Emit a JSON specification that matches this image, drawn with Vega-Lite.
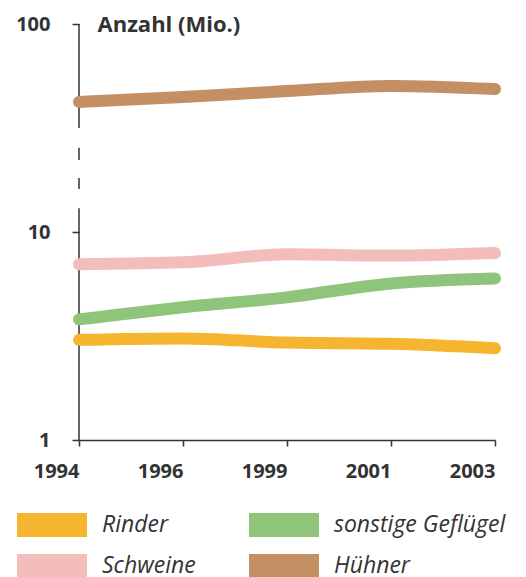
{
  "$schema": "https://vega.github.io/schema/vega-lite/v6.json",
  "width": 416,
  "height": 416,
  "autosize": {"type": "none"},
  "padding": {"left": 79, "top": 24, "right": 31, "bottom": 137},
  "background": "white",
  "config": {
    "view": {"stroke": null},
    "font": "Open Sans",
    "legend": {
      "orient": "none",
      "legendX": -39,
      "legendY": 489,
      "columns": 2,
      "direction": "horizontal",
      "title": null,
      "symbolType": "M-2.917,-1H2.917V1H-2.917Z",
      "symbolSize": 576,
      "symbolStrokeWidth": 0,
      "symbolOpacity": 1,
      "labelFont": "Open Sans",
      "labelFontStyle": "italic",
      "labelFontSize": 23,
      "labelColor": "#333333",
      "labelOffset": 38,
      "rowPadding": 17,
      "columnPadding": 52,
      "labelLimit": 300
    }
  },
  "datasets": {
    "series": [
      {"year": 1994, "kind": "Rinder", "value": 3.03},
      {"year": 1996, "kind": "Rinder", "value": 3.08},
      {"year": 1999, "kind": "Rinder", "value": 2.94},
      {"year": 2001, "kind": "Rinder", "value": 2.9},
      {"year": 2003, "kind": "Rinder", "value": 2.76},
      {"year": 1994, "kind": "Schweine", "value": 7.0},
      {"year": 1996, "kind": "Schweine", "value": 7.15},
      {"year": 1999, "kind": "Schweine", "value": 7.81},
      {"year": 2001, "kind": "Schweine", "value": 7.7},
      {"year": 2003, "kind": "Schweine", "value": 7.92},
      {"year": 1994, "kind": "sonstige Geflügel", "value": 3.8},
      {"year": 1996, "kind": "sonstige Geflügel", "value": 4.35},
      {"year": 1999, "kind": "sonstige Geflügel", "value": 4.85},
      {"year": 2001, "kind": "sonstige Geflügel", "value": 5.66},
      {"year": 2003, "kind": "sonstige Geflügel", "value": 5.98},
      {"year": 1994, "kind": "Hühner", "value": 42.2},
      {"year": 1996, "kind": "Hühner", "value": 44.6},
      {"year": 1999, "kind": "Hühner", "value": 47.6},
      {"year": 2001, "kind": "Hühner", "value": 50.4},
      {"year": 2003, "kind": "Hühner", "value": 48.7}
    ],
    "axisline": [
      {"from": 1, "to": 13.0},
      {"from": 16.1, "to": 18.2},
      {"from": 22.2, "to": 25.4},
      {"from": 31.6, "to": 100}
    ]
  },
  "layer": [
    {
      "data": {"name": "axisline"},
      "mark": {"type": "rule", "color": "#333333", "strokeWidth": 1.5},
      "encoding": {
        "x": {"datum": 1994, "type": "ordinal"},
        "y": {
          "field": "from",
          "type": "quantitative",
          "title": "Anzahl (Mio.)"
        },
        "y2": {"field": "to"}
      }
    },
    {
      "data": {"name": "series"},
      "mark": {"type": "line", "strokeWidth": 12, "strokeCap": "round", "strokeJoin": "round", "interpolate": "monotone"},
      "encoding": {
        "x": {
          "field": "year",
          "type": "ordinal",
          "scale": {"type": "point", "padding": 0},
          "axis": {
            "title": null,
            "labelAngle": 0,
            "labelFont": "Open Sans",
            "labelFontWeight": "bold",
            "labelFontSize": 20,
            "labelColor": "#333333",
            "labelPadding": 25,
            "tickSize": 6,
            "tickColor": "#333333",
            "tickWidth": 1.5,
            "domainColor": "#333333",
            "domainWidth": 1.5,
            "grid": false
          }
        },
        "y": {
          "field": "value",
          "type": "quantitative",
          "title": "Anzahl (Mio.)",
          "scale": {"type": "log", "domain": [1, 100]},
          "axis": {
            "title": "Anzahl (Mio.)",
            "titleAngle": 0,
            "titleAlign": "left",
            "titleBaseline": "middle",
            "titleX": 18,
            "titleY": 0,
            "titleFont": "Open Sans",
            "titleFontWeight": "bold",
            "titleFontSize": 22,
            "titleColor": "#333333",
            "values": [1, 10, 100],
            "labelFont": "Open Sans",
            "labelFontWeight": "bold",
            "labelFontSize": 20,
            "labelColor": "#333333",
            "labelPadding": 22,
            "tickSize": 7,
            "tickColor": "#333333",
            "tickWidth": 1.5,
            "domain": false,
            "grid": false
          }
        },
        "color": {
          "field": "kind",
          "type": "nominal",
          "scale": {
            "domain": ["Rinder", "sonstige Geflügel", "Schweine", "Hühner"],
            "range": ["#f5b52e", "#8fc47b", "#f2bdbb", "#c48f63"]
          },
          "legend": {
            "encode": {
              "symbols": {
                "update": {
                  "fill": {"scale": "color", "field": "value"},
                  "stroke": {"value": "transparent"},
                  "strokeWidth": {"value": 0},
                  "opacity": {"value": 1}
                }
              }
            }
          }
        }
      }
    }
  ]
}
